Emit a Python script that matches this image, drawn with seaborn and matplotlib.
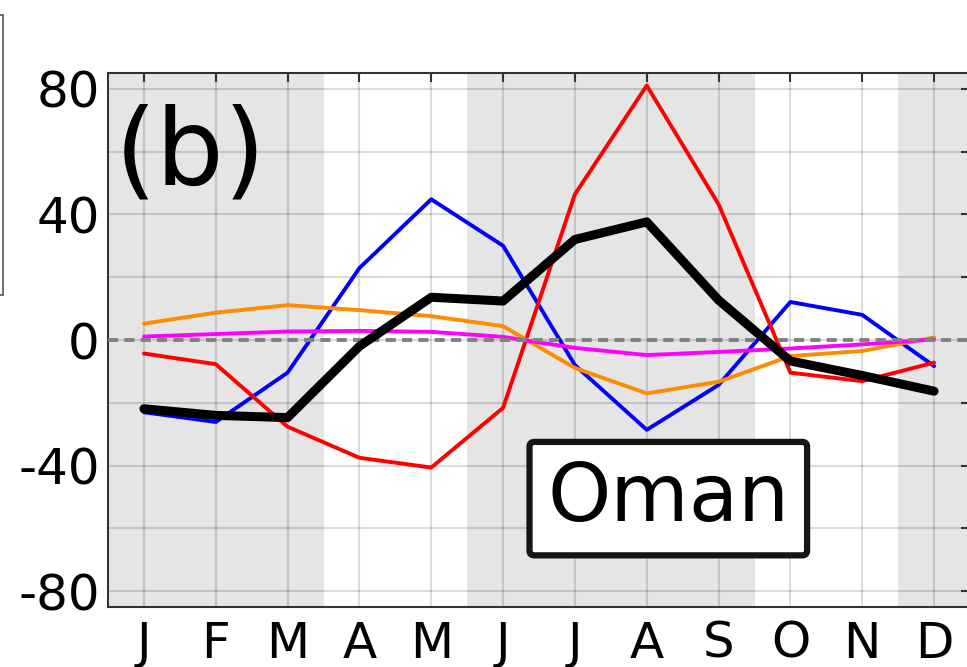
import numpy as np
import pandas as pd
import seaborn as sns
import matplotlib.pyplot as plt
from matplotlib.patches import Rectangle

months = list(range(1, 13))
month_labels = ["J", "F", "M", "A", "M", "J", "J", "A", "S", "O", "N", "D"]

blue = [-23, -26.1, -10.4, 22.9, 44.8, 30, -8, -28.6, -14.3, 12.1, 8, -8.3]
red = [-4.3, -7.7, -27.6, -37.5, -40.6, -21.6, 46.4, 81, 43.2, -10.4, -13.1, -7.2]
orange = [5.2, 8.7, 11.1, 9.5, 7.6, 4.4, -8.9, -17, -13.3, -5.1, -3.5, 0.8]
magenta = [1.1, 1.9, 2.7, 2.9, 2.6, 1, -2.5, -4.8, -3.8, -2.7, -1.4, 0.2]
total = [-21.9, -24, -24.7, -2, 13.6, 12.4, 32, 37.6, 12.7, -6.7, -11.3, -16.3]

shaded = [(0.5, 3.5), (5.5, 9.5), (11.5, 12.5)]

series = {"blue": (blue, "#0000ff"),
          "red": (red, "#ff0000"),
          "orange": (orange, "#ff8c00"),
          "magenta": (magenta, "#ff00ff")}

sns.set_style("white")
plt.rcParams['font.family'] = ['DejaVu Sans']
plt.rcParams['text.color'] = 'black'
plt.rcParams['xtick.labelcolor'] = 'black'
plt.rcParams['ytick.labelcolor'] = 'black'

fig = plt.figure(figsize=(9.67, 6.67), dpi=100)
ax = fig.add_axes([108 / 967, 60 / 667, 862 / 967, 534 / 667])

for a, b in shaded:
    ax.axvspan(a, b, color="#e5e5e5", lw=0, zorder=0)

for name, (vals, col) in series.items():
    df = pd.DataFrame({"month": months, "value": vals})
    sns.lineplot(data=df, x="month", y="value", color=col, linewidth=2.8,
                 ax=ax, zorder=3)

ax.axhline(0, color="#808080", ls=(0, (2.6, 1.6)), lw=2.8, zorder=4)

df = pd.DataFrame({"month": months, "value": total})
sns.lineplot(data=df, x="month", y="value", color="black", linewidth=6.5,
             ax=ax, zorder=5)

ax.set_xlim(0.5, 12.5)
ax.set_ylim(-85, 85)
ax.set_xticks(months)
ax.set_xticklabels(month_labels)
yt = list(range(-80, 81, 20))
ax.set_yticks(yt)
ax.set_yticklabels(["-80", "", "-40", "", "0", "", "40", "", "80"])
ax.set_xlabel("")
ax.set_ylabel("")
ax.grid(True, color="black", alpha=0.14, lw=1.5, zorder=1)
ax.set_axisbelow(True)

for s in ax.spines.values():
    s.set_color("#333333")
    s.set_linewidth(1.5)
    s.set_visible(True)
ax.tick_params(direction="in", length=6.5, width=1.5, color="#333333",
               top=True, right=True, labelsize=36)
ax.tick_params(axis="x", pad=9)
ax.tick_params(axis="y", pad=6)

ax.text(0.6, 59, "(b)", fontsize=77, va="center", ha="left", zorder=6)
ax.text(8.3, -50.5, "Oman", fontsize=58, ha="center", va="center", zorder=6,
        bbox=dict(boxstyle="round,pad=0.22,rounding_size=0.06", fc="white",
                  ec="#151515", lw=4.5))

fig.patches.append(Rectangle((-100 / 967, 1 - 295 / 667), 103 / 967, 280 / 667,
                             transform=fig.transFigure, fill=False,
                             ec="#555555", lw=1.2))

fig.savefig("out.png", dpi=100)
